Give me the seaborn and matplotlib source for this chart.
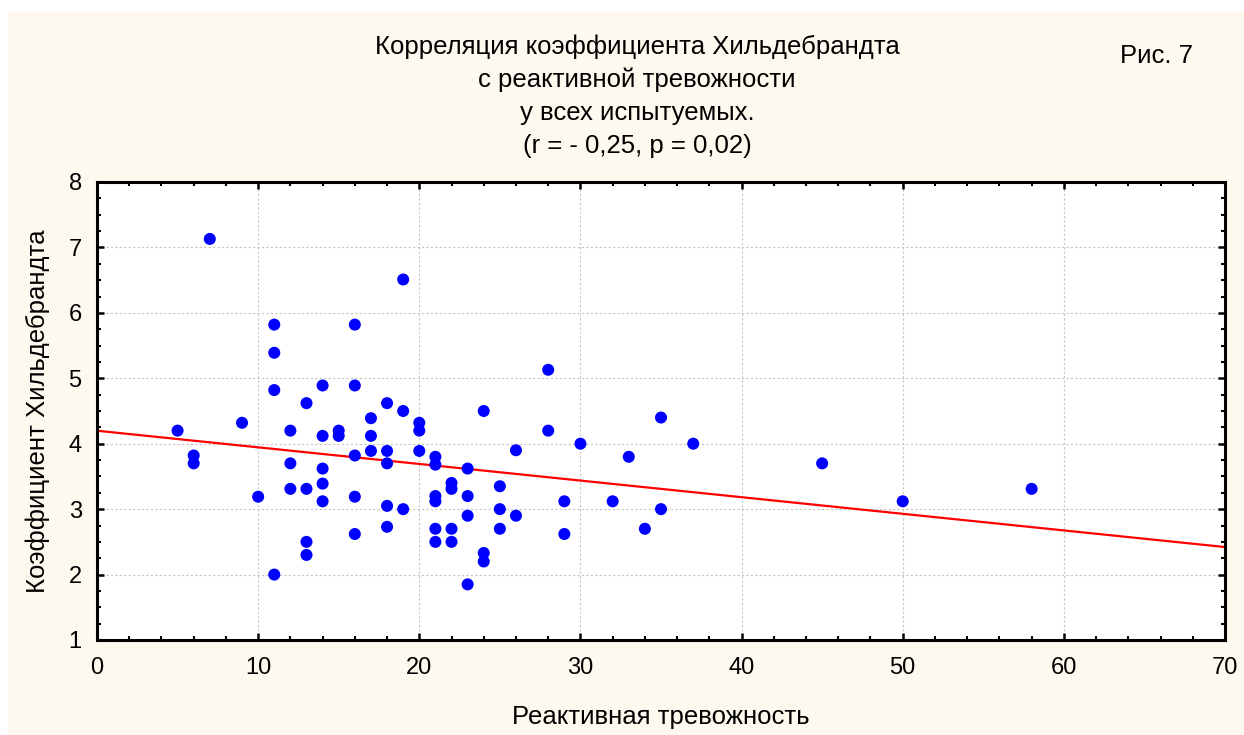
import numpy as np
import pandas as pd
import matplotlib
matplotlib.use("Agg")
import matplotlib.pyplot as plt
from matplotlib.ticker import MultipleLocator
from matplotlib.patches import Rectangle
import seaborn as sns

# Reactive anxiety (x) and Hildebrandt coefficient (y)
anxiety = [5, 6, 6, 7, 9, 10,
           11, 11, 11, 11,
           12, 12, 12,
           13, 13, 13, 13,
           14, 14, 14, 14, 14,
           15, 15,
           16, 16, 16, 16, 16,
           17, 17, 17,
           18, 18, 18, 18, 18,
           19, 19, 19,
           20, 20, 20,
           21, 21, 21, 21, 21, 21,
           22, 22, 22, 22,
           23, 23, 23, 23,
           24, 24, 24,
           25, 25, 25,
           26, 26,
           28, 28,
           29, 29,
           30, 32, 33, 34, 35, 35, 37, 45, 50, 58]
hildebrandt = [4.2, 3.82, 3.7, 7.13, 4.32, 3.19,
               5.82, 5.39, 4.82, 2.0,
               4.2, 3.7, 3.31,
               4.62, 3.31, 2.5, 2.3,
               4.89, 4.12, 3.62, 3.39, 3.12,
               4.2, 4.12,
               5.82, 4.89, 3.82, 3.19, 2.62,
               4.39, 4.12, 3.89,
               4.62, 3.89, 3.7, 3.05, 2.73,
               6.51, 4.5, 3.0,
               4.32, 4.2, 3.89,
               3.8, 3.68, 3.2, 3.12, 2.7, 2.5,
               3.4, 3.31, 2.7, 2.5,
               3.62, 3.2, 2.9, 1.85,
               4.5, 2.33, 2.2,
               3.35, 3.0, 2.7,
               3.9, 2.9,
               5.13, 4.2,
               3.12, 2.62,
               4.0, 3.12, 3.8, 2.7, 4.4, 3.0, 4.0, 3.7, 3.12, 3.31]

title_lines = ["Корреляция коэффициента Хильдебрандта",
               "с реактивной тревожности",
               "у всех испытуемых.",
               "(r = - 0,25, p = 0,02)"]
fig_label = "Рис. 7"
x_label = "Реактивная тревожность"
y_label = "Коэффициент Хильдебрандта"

df = pd.DataFrame({"x": anxiety, "y": hildebrandt})

sns.set_style("white")
plt.rcParams["font.family"] = ["Liberation Sans", "DejaVu Sans"]
plt.rcParams["text.color"] = "black"

W, H = 1244, 735
fig = plt.figure(figsize=(W / 100, H / 100), dpi=100)
fig.patch.set_facecolor("white")
fig.patches.append(Rectangle((8 / W, 0), 1 - 8 / W, 1 - 12 / H,
                             transform=fig.transFigure, facecolor="#FEF9EE",
                             edgecolor="none", zorder=-10))

ax = fig.add_axes([97 / W, 1 - 640 / H, (1225 - 97) / W, (640 - 182) / H])
ax.set_facecolor("white")
ax.set_xlim(0, 70)
ax.set_ylim(1, 8)

ax.xaxis.set_major_locator(MultipleLocator(10))
ax.xaxis.set_minor_locator(MultipleLocator(2))
ax.yaxis.set_major_locator(MultipleLocator(1))
ax.yaxis.set_minor_locator(MultipleLocator(0.25))
ax.grid(True, which="major", color="#C4C4C4", linestyle=(0, (2, 2)), linewidth=0.8)
ax.set_axisbelow(True)

sns.regplot(data=df, x="x", y="y", ax=ax, scatter=False, ci=None,
            truncate=False, line_kws=dict(color="red", linewidth=1.6, zorder=2))
sns.scatterplot(data=df, x="x", y="y", ax=ax, color="#0000FF", s=75,
                edgecolor="none", linewidth=0, zorder=3)
ax.set_xlim(0, 70)
ax.set_ylim(1, 8)

for sp in ax.spines.values():
    sp.set_visible(True)
    sp.set_color("black")
    sp.set_linewidth(2.2)

ax.tick_params(which="both", direction="in", top=True, right=True,
               bottom=True, left=True, colors="black", labelcolor="black",
               labelsize=17)
ax.tick_params(which="major", length=5, width=1.8)
ax.tick_params(which="minor", length=3, width=1.5)
ax.tick_params(axis="x", which="major", pad=12)
ax.tick_params(axis="y", which="major", pad=11)

ax.set_xlabel("")
ax.set_ylabel("")
fig.text(661 / W, 1 - 717 / H, x_label, ha="center", va="center",
         fontsize=18.5, color="black")
fig.text(38 / W, 1 - 411 / H, y_label, ha="center", va="center",
         rotation=90, fontsize=18.5, color="black")

for i, line in enumerate(title_lines):
    fig.text(637 / W, 1 - (47 + 33 * i) / H, line, ha="center", va="center",
             fontsize=18.5, color="black")
fig.text(1157 / W, 1 - 56 / H, fig_label, ha="center", va="center",
         fontsize=18.5, color="black")

fig.savefig("out.png", dpi=100, facecolor=fig.get_facecolor())
